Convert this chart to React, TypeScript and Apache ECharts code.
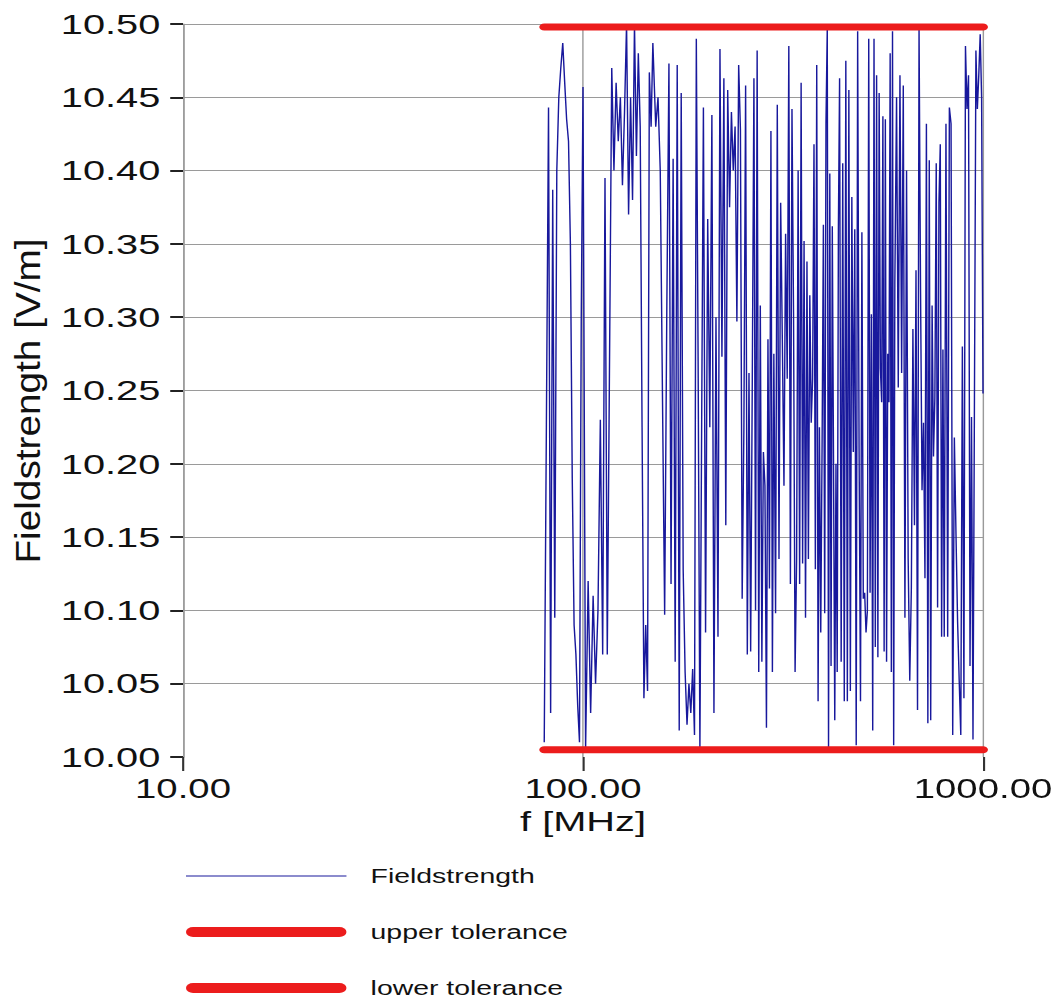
import React, { useEffect, useRef } from "react";
import * as echarts from "echarts";

// The reference is stretched horizontally; the chart is drawn narrower and scaled in X.
const STRETCH = 1.42;
const PAGE_W = 1062;
const PAGE_H = 1006;
const FONT = "'Liberation Sans', Arial, sans-serif";

// Frequencies of the sweep (MHz)
const freqMHz = [
  80, 81, 82, 83, 84, 85, 86, 87, 88, 89, 90, 91, 92, 93, 94, 95, 96, 97, 98, 99, 100,
  101.5, 103, 104.5, 106, 107.5, 109, 110.5, 112, 113.5, 115, 116.5, 118, 119.5, 121, 122.5, 124, 125.5, 127, 128.5, 130,
  131.5, 133, 134.5, 136, 137.5, 139, 140.5, 142, 143.5, 145, 146.5, 148, 149.5,
  152, 154, 156, 158, 160, 162, 164, 166, 168, 170, 172, 174, 176, 178, 180, 182, 184, 186, 188, 190, 192, 194, 196, 198, 200,
  202.5, 205, 207.5, 210, 212.5, 215, 217.5, 220, 222.5, 225, 227.5, 230, 232.5, 235, 237.5, 240, 242.5, 245, 247.5, 250,
  252.5, 255, 257.5, 260, 262.5, 265, 267.5, 270, 272.5, 275, 277.5, 280, 282.5, 285, 287.5, 290, 292.5, 295, 297.5, 300,
  303, 306, 309, 312, 315, 318, 321, 324, 327, 330, 333, 336, 339, 342, 345, 348, 351, 354, 357, 360, 363, 366, 369,
  372, 375, 378, 381, 384, 387, 390, 393, 396, 399, 402, 405, 408, 411, 414, 417, 420, 423, 426, 429, 432, 435, 438,
  442, 446, 450, 454, 458, 462, 466, 470, 474, 478, 482, 486, 490, 494, 498, 502, 506, 510, 514, 518, 522,
  526, 530, 534, 538, 542, 546, 550, 554, 558, 562, 566, 570, 574, 578, 582, 586, 590, 594, 598, 602,
  608, 614, 620, 626, 632, 638, 644, 650, 656, 662, 668, 674, 680, 686, 692, 698, 704,
  710, 716, 722, 728, 734, 740, 746, 752, 758, 764, 770, 776, 782, 788, 794, 800,
  808, 816, 824, 832, 840, 848, 856, 864, 872, 880, 888, 896, 904,
  912, 920, 928, 936, 944, 952, 960, 968, 976, 984, 992, 1000,
];

// Measured field strength (V/m)
const fieldStrength = [
  10.01, 10.227, 10.443, 10.03, 10.387, 10.095, 10.4, 10.45, 10.47, 10.487, 10.46, 10.435, 10.42, 10.35, 10.19, 10.09, 10.07, 10.035, 10.01, 10.3, 10.457,
  10.005, 10.12, 10.03, 10.11, 10.05, 10.1, 10.23, 10.07, 10.395, 10.07, 10.27, 10.47, 10.4, 10.46, 10.42, 10.45, 10.39, 10.44, 10.5, 10.37,
  10.45, 10.38, 10.5, 10.41, 10.48, 10.43, 10.225, 10.04, 10.09, 10.045, 10.467, 10.43, 10.487,
  10.43, 10.45, 10.4, 10.247, 10.097, 10.305, 10.473, 10.118, 10.408, 10.065, 10.472, 10.018, 10.453, 10.128, 10.058, 10.022, 10.05, 10.03, 10.06, 10.015, 10.49, 10.27, 10.005, 10.228, 10.443,
  10.085, 10.367, 10.225, 10.438, 10.03, 10.3, 10.082, 10.483, 10.273, 10.463, 10.158, 10.455, 10.375, 10.44, 10.4, 10.43, 10.297, 10.472, 10.428, 10.108,
  10.225, 10.458, 10.07, 10.262, 10.072, 10.258, 10.463, 10.1, 10.482, 10.058, 10.308, 10.065, 10.208, 10.185, 10.02, 10.285, 10.115, 10.427, 10.058, 10.275,
  10.098, 10.445, 10.135, 10.378, 10.285, 10.185, 10.357, 10.258, 10.485, 10.118, 10.442, 10.303, 10.058, 10.135, 10.4, 10.118, 10.46, 10.132, 10.352, 10.095, 10.338, 10.135, 10.315,
  10.228, 10.258, 10.418, 10.128, 10.472, 10.038, 10.225, 10.085, 10.212, 10.363, 10.098, 10.433, 10.497, 10.005, 10.398, 10.062, 10.362, 10.198, 10.025, 10.2, 10.058, 10.36, 10.463,
  10.065, 10.405, 10.038, 10.475, 10.038, 10.455, 10.045, 10.382, 10.208, 10.36, 10.008, 10.495, 10.21, 10.038, 10.358, 10.108, 10.112, 10.085, 10.1, 10.49, 10.112,
  10.302, 10.018, 10.49, 10.075, 10.465, 10.068, 10.453, 10.265, 10.242, 10.437, 10.072, 10.435, 10.065, 10.275, 10.242, 10.48, 10.058, 10.495, 10.008, 10.323,
  10.45, 10.252, 10.465, 10.262, 10.458, 10.095, 10.4, 10.135, 10.052, 10.115, 10.292, 10.158, 10.332, 10.032, 10.497, 10.318, 10.182,
  10.228, 10.122, 10.432, 10.023, 10.407, 10.025, 10.308, 10.205, 10.245, 10.405, 10.102, 10.378, 10.418, 10.082, 10.278, 10.082,
  10.432, 10.082, 10.443, 10.432, 10.015, 10.218, 10.152, 10.092, 10.052, 10.015, 10.28, 10.04, 10.485,
  10.442, 10.465, 10.062, 10.232, 10.012, 10.245, 10.482, 10.442, 10.465, 10.493, 10.45, 10.248,
];

// Tolerance band
const toleranceFreq = [80, 1000];
const upperTolerance = [10.498, 10.498];
const lowerTolerance = [10.005, 10.005];

// Axes
const yMin = 10.0;
const yMax = 10.5;
const yStep = 0.05;
const xMin = 10;
const xMax = 1000;

const seriesNames = ["Fieldstrength", "upper tolerance", "lower tolerance"];

export default function App() {
  const ref = useRef<HTMLDivElement>(null);

  useEffect(() => {
    if (!ref.current) return;
    const cw = PAGE_W / STRETCH;
    const chart = echarts.init(ref.current, null, { renderer: "svg", width: cw, height: PAGE_H });

    const n = Math.min(freqMHz.length, fieldStrength.length);
    const blueData = freqMHz.slice(0, n).map((f, i) => [f, fieldStrength[i]]);
    const upperData = toleranceFreq.map((f, i) => [f, upperTolerance[i]]);
    const lowerData = toleranceFreq.map((f, i) => [f, lowerTolerance[i]]);

    chart.setOption({
      animation: false,
      backgroundColor: "#ffffff",
      grid: {
        left: 183 / STRETCH,
        right: (PAGE_W - 983) / STRETCH,
        top: 24,
        bottom: PAGE_H - 757,
        containLabel: false,
      },
      xAxis: {
        type: "log",
        logBase: 10,
        min: xMin,
        max: xMax,
        name: "f [MHz]",
        nameLocation: "middle",
        nameGap: 47,
        nameTextStyle: { fontFamily: FONT, fontSize: 28, color: "#111" },
        axisLine: { show: false },
        axisTick: { show: true, inside: false, length: 14, lineStyle: { color: "#333", width: 1.5 } },
        axisLabel: {
          margin: 18,
          fontFamily: FONT,
          fontSize: 27,
          color: "#111",
          formatter: (v: number) => v.toFixed(2),
        },
        splitLine: { show: true, lineStyle: { color: "#9a9a9a", width: 1 } },
        minorTick: { show: false },
      },
      yAxis: {
        type: "value",
        min: yMin,
        max: yMax,
        interval: yStep,
        axisLine: { show: true, lineStyle: { color: "#9a9a9a", width: 1 } },
        axisTick: { show: true, inside: false, length: 9, lineStyle: { color: "#222", width: 2 } },
        axisLabel: {
          margin: 16,
          fontFamily: FONT,
          fontSize: 28,
          color: "#111",
          formatter: (v: number) => v.toFixed(2),
        },
        splitLine: { show: true, showMinLine: false, lineStyle: { color: "#9a9a9a", width: 1 } },
      },
      legend: {
        orient: "vertical",
        left: 186 / STRETCH,
        top: 864,
        padding: 0,
        itemWidth: 113,
        itemHeight: 10,
        itemGap: 32,
        itemStyle: { borderWidth: 0 },
        textStyle: { fontFamily: FONT, fontSize: 20, lineHeight: 24, color: "#111", padding: [0, 0, 0, 12] },
        data: [
          { name: seriesNames[0], icon: "path://M0,0 L113,0 L113,1 L0,1 Z" },
          { name: seriesNames[1], icon: "path://M5,0 L108,0 A5,5 0 0 1 108,10 L5,10 A5,5 0 0 1 5,0 Z" },
          { name: seriesNames[2], icon: "path://M5,0 L108,0 A5,5 0 0 1 108,10 L5,10 A5,5 0 0 1 5,0 Z" },
        ],
      },
      graphic: [
        {
          type: "text",
          x: 27.5 / STRETCH,
          y: 401,
          rotation: Math.PI / 2,
          scaleX: 1.55,
          style: {
            text: "Fieldstrength [V/m]",
            fontFamily: FONT,
            fontSize: 25,
            fill: "#111",
            textAlign: "center",
            textVerticalAlign: "middle",
          },
        },
      ],
      series: [
        {
          name: seriesNames[0],
          type: "line",
          data: blueData,
          symbol: "none",
          showSymbol: false,
          color: "#18189c",
          lineStyle: { color: "#18189c", width: 1 },
          z: 2,
        },
        {
          name: seriesNames[1],
          type: "line",
          data: upperData,
          symbol: "none",
          showSymbol: false,
          clip: false,
          color: "#ec1c1c",
          lineStyle: { color: "#ec1c1c", width: 7, cap: "round" },
          z: 3,
        },
        {
          name: seriesNames[2],
          type: "line",
          data: lowerData,
          symbol: "none",
          showSymbol: false,
          clip: false,
          color: "#ec1c1c",
          lineStyle: { color: "#ec1c1c", width: 7, cap: "round" },
          z: 3,
        },
      ],
    });

    return () => chart.dispose();
  }, []);

  return (
    <div
      style={{
        position: "fixed",
        left: 0,
        top: 0,
        width: PAGE_W,
        height: PAGE_H,
        overflow: "hidden",
        background: "#ffffff",
      }}
    >
      <div
        ref={ref}
        style={{
          width: PAGE_W / STRETCH,
          height: PAGE_H,
          transform: `scaleX(${STRETCH})`,
          transformOrigin: "0 0",
        }}
      />
    </div>
  );
}
